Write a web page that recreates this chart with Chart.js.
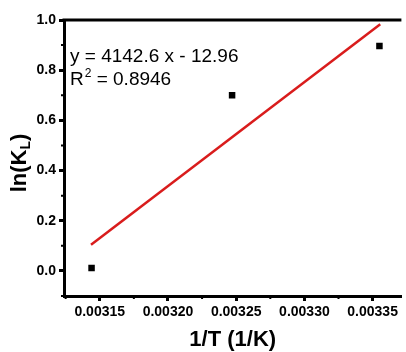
<!DOCTYPE html>
<html>
<head>
<meta charset="utf-8">
<script src="https://cdn.jsdelivr.net/npm/chart.js@4.4.1/dist/chart.umd.min.js"></script>
<style>
  html, body { margin: 0; padding: 0; background: #fff; }
</style>
</head>
<body>
<canvas id="chart" width="406" height="352"></canvas>
<script>
// measured points: 1/T vs ln(KL)
const invT = [0.003144, 0.003247, 0.003355];
const lnKL = [0.012, 0.700, 0.896];

// linear fit, end points as drawn
const fitX = [0.0031436, 0.0033556];
const fitY = [0.104, 0.983];

const xTicks = [0.00315, 0.00320, 0.00325, 0.00330, 0.00335];
const yTicks = [0.0, 0.2, 0.4, 0.6, 0.8, 1.0];

const eqText = "y = 4142.6 x - 12.96";
const r2Value = " = 0.8946";

const FONT = "'Liberation Sans', Arial, sans-serif";

// top frame line, minor ticks, y title with subscript, fit equation
const extras = {
    id: "extras",
    afterDraw(chart) {
        const ctx = chart.ctx;
        const a = chart.chartArea;
        const xs = chart.scales.x, ys = chart.scales.y;
        ctx.save();
        ctx.strokeStyle = "#000";
        ctx.lineWidth = 3;
        ctx.beginPath();
        ctx.moveTo(a.left - 1.5, a.top);
        ctx.lineTo(a.right, a.top);
        ctx.stroke();

        // minor ticks halfway between majors
        ctx.lineWidth = 2;
        ctx.beginPath();
        const xStep = xTicks[1] - xTicks[0];
        for (let v = xTicks[0] - xStep / 2; v < xs.max; v += xStep) {
            if (v < xs.min) continue;
            const px = xs.getPixelForValue(v);
            ctx.moveTo(px, a.bottom);
            ctx.lineTo(px, a.bottom + 3);
        }
        const yStep = yTicks[1] - yTicks[0];
        for (let v = yTicks[0] - yStep / 2; v < ys.max; v += yStep) {
            if (v < ys.min - 1e-9) continue;
            const py = ys.getPixelForValue(v);
            ctx.moveTo(a.left, py);
            ctx.lineTo(a.left - 3, py);
        }
        ctx.stroke();

        // y title: ln(K_L)
        ctx.fillStyle = "#000";
        ctx.textBaseline = "middle";
        ctx.textAlign = "left";
        const big = "bold 22px " + FONT, small = "bold 14px " + FONT;
        ctx.font = big;
        const w1 = ctx.measureText("ln(K").width;
        const w3 = ctx.measureText(")").width;
        ctx.font = small;
        const w2 = ctx.measureText("L").width;
        const total = w1 + w2 + w3;
        ctx.translate(20, (a.top + a.bottom) / 2 + 5);
        ctx.rotate(-Math.PI / 2);
        let x0 = -total / 2;
        ctx.font = big;
        ctx.fillText("ln(K", x0, 0);
        ctx.font = small;
        ctx.fillText("L", x0 + w1, 6);
        ctx.font = big;
        ctx.fillText(")", x0 + w1 + w2, 0);
        ctx.restore();

        // equation and R^2
        ctx.save();
        ctx.fillStyle = "#000";
        ctx.textBaseline = "alphabetic";
        ctx.textAlign = "left";
        const tx = a.left + 6;
        ctx.font = "19px " + FONT;
        ctx.fillText(eqText, tx, a.top + 42);
        ctx.fillText("R", tx, a.top + 65);
        const rw = ctx.measureText("R").width;
        ctx.font = "12px " + FONT;
        ctx.fillText("2", tx + rw + 1, a.top + 57);
        const sw = ctx.measureText("2").width;
        ctx.font = "19px " + FONT;
        ctx.fillText(r2Value, tx + rw + sw + 1, a.top + 65);
        ctx.restore();
    }
};

const ctx = document.getElementById("chart").getContext("2d");

new Chart(ctx, {
    type: "scatter",
    data: {
        datasets: [
            {
                label: "fit",
                data: fitX.map((x, i) => ({ x: x, y: fitY[i] })),
                showLine: true,
                borderColor: "#d91c1c",
                borderWidth: 2.5,
                pointRadius: 0,
                order: 2
            },
            {
                label: "data",
                data: invT.map((x, i) => ({ x: x, y: lnKL[i] })),
                pointStyle: "rect",
                pointRadius: 4.6,
                backgroundColor: "#000",
                borderColor: "#000",
                borderWidth: 0,
                order: 1
            }
        ]
    },
    options: {
        responsive: false,
        animation: false,
        layout: { padding: { left: 0, right: 2, top: 20, bottom: 0 } },
        plugins: {
            legend: { display: false },
            tooltip: { enabled: false }
        },
        scales: {
            x: {
                type: "linear",
                min: 0.0031238,
                max: 0.0033711,
                afterBuildTicks: s => { s.ticks = xTicks.map(v => ({ value: v })); },
                afterFit: s => { s.height = 56; },
                ticks: {
                    color: "#000",
                    font: { family: FONT, size: 14, weight: "bold" },
                    padding: 3,
                    maxRotation: 0,
                    callback: v => v.toFixed(5)
                },
                grid: {
                    drawOnChartArea: false,
                    tickLength: 5,
                    tickWidth: 3,
                    tickColor: "#000"
                },
                border: { color: "#000", width: 3 },
                title: {
                    display: true,
                    text: "1/T (1/K)",
                    color: "#000",
                    font: { family: FONT, size: 22, weight: "bold", lineHeight: 1 },
                    padding: { top: 0, bottom: 1 }
                }
            },
            y: {
                min: -0.1,
                max: 1.0,
                afterBuildTicks: s => { s.ticks = yTicks.map(v => ({ value: v })); },
                afterFit: s => { s.width = 64; },
                ticks: {
                    color: "#000",
                    font: { family: FONT, size: 14, weight: "bold" },
                    padding: 3,
                    callback: v => v.toFixed(1)
                },
                grid: {
                    drawOnChartArea: false,
                    tickLength: 5,
                    tickWidth: 3,
                    tickColor: "#000"
                },
                border: { color: "#000", width: 3 }
            }
        }
    },
    plugins: [extras]
});
</script>
</body>
</html>
